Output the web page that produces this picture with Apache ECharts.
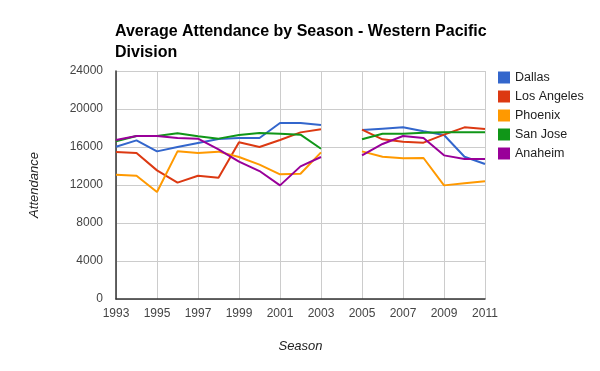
<!DOCTYPE html>
<html><head><meta charset="utf-8">
<script src="https://cdn.jsdelivr.net/npm/echarts@6/dist/echarts.min.js"></script>
<style>html,body{margin:0;padding:0;background:#fff}#c{width:600px;height:371px}</style>
</head><body><div id="c"></div>
<script>
const seasons = ['1993','1994','1995','1996','1997','1998','1999','2000','2001','2002','2003','2004','2005','2006','2007','2008','2009','2010','2011'];
const dallas    = [16030,16700,15540,16000,16420,16840,16950,16950,18530,18530,18320,null,17790,17930,18070,17650,17260,14980,14210];
const losAngeles= [15470,15370,13540,12250,12980,12770,16490,16000,16740,17540,17860,null,17820,16810,16560,16460,17300,18070,17890];
const phoenix   = [13090,12980,11260,15540,15370,15510,14950,14140,13120,13190,15440,null,15540,14980,14810,14840,11960,12180,12390];
const sanJose   = [16600,17160,17160,17440,17120,16880,17260,17470,17400,17300,15820,null,16810,17400,17400,17510,17540,17540,17540];
const anaheim   = [16740,17160,17160,16950,16880,15750,14460,13470,11960,13960,14950,null,15120,16320,17160,16950,15120,14740,14740];
const yTicks = [0,4000,8000,12000,16000,20000,24000];

const names = ['Dallas','Los Angeles','Phoenix','San Jose','Anaheim'];
const colors = ['#3366cc','#dc3912','#ff9900','#109618','#990099'];
const datasets = [dallas, losAngeles, phoenix, sanJose, anaheim];

const chart = echarts.init(document.getElementById('c'), null, {renderer:'canvas'});
const font = '"Liberation Sans", Arial, sans-serif';
chart.setOption({
  animation:false,
  color: colors,
  textStyle:{fontFamily:font},
  title:{
    text:'Average Attendance by Season - Western Pacific\nDivision',
    left:110, top:16,
    textStyle:{fontFamily:font, fontSize:16, fontWeight:'bold', color:'#000', lineHeight:21}
  },
  legend:{
    orient:'vertical', left:493, top:66,
    icon:'rect', itemWidth:12, itemHeight:12, itemGap:6,
    textStyle:{fontFamily:font, fontSize:12.5, color:'#222'},
    data:names
  },
  grid:{left:116, right:115, top:71, bottom:72, containLabel:false},
  xAxis:{
    type:'category', data:seasons, boundaryGap:false,
    name:'Season', nameLocation:'middle', nameGap:41,
    nameTextStyle:{fontFamily:font, fontSize:13, fontStyle:'italic', color:'#222'},
    axisLine:{lineStyle:{color:'#333', width:1.5}},
    axisTick:{show:false},
    axisLabel:{interval:1, color:'#444', fontSize:12, margin:9, fontFamily:font},
    splitLine:{show:true, interval:1, lineStyle:{color:'#ccc', width:1}}
  },
  yAxis:{
    type:'value', min:0, max:24000, interval:4000,
    name:'Attendance', nameLocation:'middle', nameGap:75,
    nameTextStyle:{fontFamily:font, fontSize:13, fontStyle:'italic', color:'#222'},
    axisLine:{show:true, lineStyle:{color:'#333', width:1.5}},
    axisTick:{show:false},
    axisLabel:{color:'#444', fontSize:12, margin:13, fontFamily:font,
      formatter:v=> yTicks.includes(v) ? String(v) : ''},
    splitLine:{show:true, lineStyle:{color:'#ccc', width:1}}
  },
  series: names.map((n,i)=>({
    name:n, type:'line', data:datasets[i], showSymbol:false, symbol:'none',
    connectNulls:false, lineStyle:{width:2, color:colors[i]}, itemStyle:{color:colors[i]}
  }))
});
</script></body></html>
